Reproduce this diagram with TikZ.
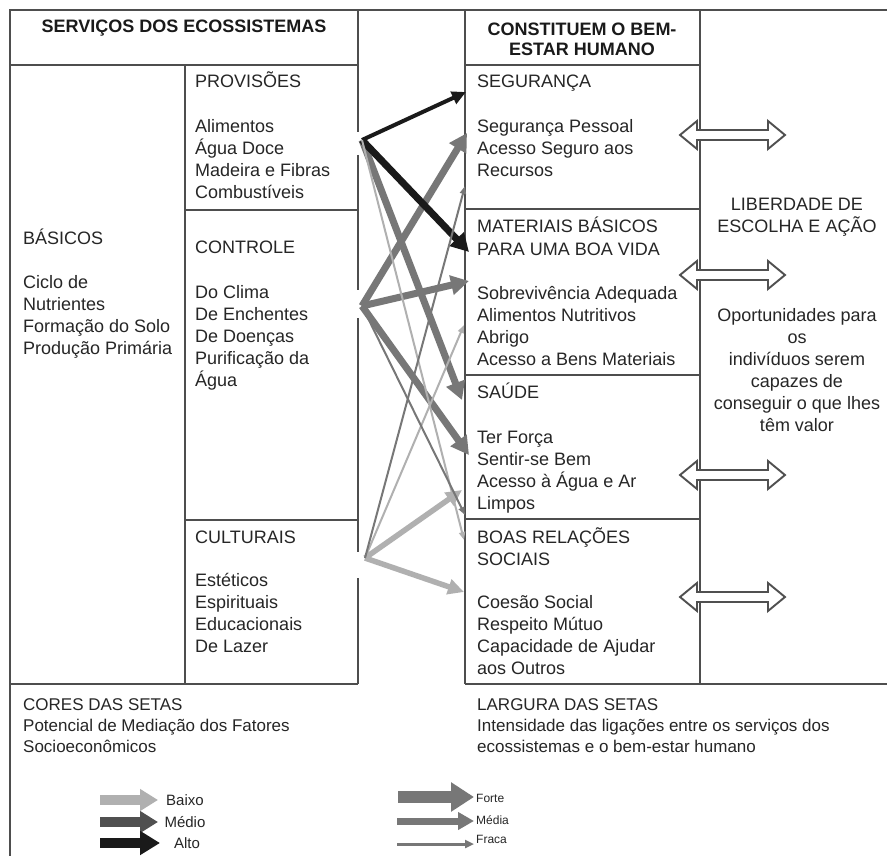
\documentclass[tikz,border=0pt]{standalone}
\usepackage{fontspec}
\setmainfont{Liberation Sans}
\usetikzlibrary{arrows.meta}
\definecolor{framec}{HTML}{4E4E4E}
\definecolor{txtc}{HTML}{262626}
\definecolor{calto}{HTML}{1A1A1A}
\definecolor{cmedio}{HTML}{777777}
\definecolor{cmediodk}{HTML}{505050}
\definecolor{cbaixo}{HTML}{B0B0B0}
\newcommand\tblock[6]{%
  \foreach \lineText [count=\k] in {#6} {\node[#2] (#1\k) at (#3,{#4+(\k-1)*#5}) {\lineText};}}
\newcommand\dblarr[1]{%
  \draw[dblarrow] (680,#1) -- (697,{#1-14}) -- (697,{#1-5}) -- (768,{#1-5}) -- (768,{#1-14})
   -- (785,#1) -- (768,{#1+14}) -- (768,{#1+5}) -- (697,{#1+5}) -- (697,{#1+14}) -- cycle;}
\begin{document}
\begin{tikzpicture}[x=1pt,y=-1pt,
  rule/.style={draw=framec, line width=1.9pt},
  txt/.style={inner sep=0pt, anchor=base west, text=txtc, font=\fontsize{18}{22}\selectfont},
  hdr/.style={inner sep=0pt, anchor=base, text=calto, font=\bfseries\fontsize{18}{22}\selectfont},
  ctr/.style={inner sep=0pt, anchor=base, text=txtc, font=\fontsize{18}{22}\selectfont},
  lgd/.style={inner sep=0pt, anchor=base west, text=txtc, font=\fontsize{17}{21}\selectfont},
  lgdc/.style={inner sep=0pt, anchor=base, text=txtc, font=\fontsize{15}{18}\selectfont},
  lgds/.style={inner sep=0pt, anchor=base west, text=txtc, font=\fontsize{12}{14}\selectfont},
  dblarrow/.style={draw=cmediodk, fill=white, line width=1.9pt, line join=miter},
  wforte/.style={line width=7pt, -{Triangle[length=18pt,width=19pt]}},
  wblkmed/.style={line width=4pt, -{Triangle[length=14pt,width=13pt]}},
  wmedia/.style={line width=5.5pt, -{Triangle[length=16pt,width=15pt]}},
  wfraca/.style={line width=2pt, -{Triangle[length=8pt,width=6pt]}},
]
\useasboundingbox (0,0) rectangle (887,856);
\fill[white] (0,0) rectangle (887,856);

% frame
\draw[rule] (10,856) -- (10,10) -- (887,10);
\draw[rule] (10,65) -- (358,65);
\draw[rule] (358,10) -- (358,132) (358,155) -- (358,290) (358,318) -- (358,552) (358,578) -- (358,684);
\draw[rule] (185,65) -- (185,684);
\draw[rule] (185,210) -- (358,210) (185,520) -- (358,520);
\draw[rule] (10,684) -- (358,684);
\draw[rule] (465,10) -- (465,684);
\draw[rule] (700,10) -- (700,684);
\draw[rule] (465,65) -- (700,65) (465,209) -- (700,209) (465,375) -- (700,375) (465,519) -- (700,519);
\draw[rule] (465,684) -- (887,684);

% texts
\tblock{shdr}{hdr}{184}{33}{20}{SERVIÇOS DOS ECOSSISTEMAS}
\tblock{prov}{txt}{195}{88}{22}{PROVISÕES}
\tblock{provi}{txt}{195}{133}{22}{Alimentos,Água Doce,Madeira e Fibras,Combustíveis}
\tblock{bas}{txt}{23}{244}{22}{BÁSICOS}
\tblock{basi}{txt}{23}{288}{22}{Ciclo de,Nutrientes,Formação do Solo,Produção Primária}
\tblock{ctl}{txt}{195}{254}{22}{CONTROLE}
\tblock{ctli}{txt}{195}{298}{22}{Do Clima,De Enchentes,De Doenças,Purificação da,Água}
\tblock{cul}{txt}{195}{543}{22}{CULTURAIS}
\tblock{culi}{txt}{195}{586}{22}{Estéticos,Espirituais,Educacionais,De Lazer}
\tblock{bhdr}{hdr}{582}{36}{20}{CONSTITUEM O BEM-,ESTAR HUMANO}
\tblock{seg}{txt}{477}{88}{22}{SEGURANÇA}
\tblock{segi}{txt}{477}{133}{22}{Segurança Pessoal,Acesso Seguro aos,Recursos}
\tblock{mat}{txt}{477}{233}{22}{MATERIAIS BÁSICOS,PARA UMA BOA VIDA}
\tblock{mati}{txt}{477}{299}{22}{Sobrevivência Adequada,Alimentos Nutritivos,Abrigo,Acesso a Bens Materiais}
\tblock{sau}{txt}{477}{398}{22}{SAÚDE}
\tblock{saui}{txt}{477}{443}{22}{Ter Força,Sentir-se Bem,Acesso à Água e Ar,Limpos}
\tblock{boa}{txt}{477}{543}{22}{BOAS RELAÇÕES,SOCIAIS}
\tblock{boai}{txt}{477}{608}{22}{Coesão Social,Respeito Mútuo,Capacidade de Ajudar,aos Outros}
\tblock{lib}{ctr}{797}{211}{22}{LIBERDADE DE,ESCOLHA E AÇÃO}
\tblock{opo}{ctr}{797}{321}{22}{Oportunidades para,os,indivíduos serem,capazes de,conseguir o que lhes,têm valor}
\tblock{cor}{lgd}{23}{710}{21}{CORES DAS SETAS,Potencial de Mediação dos Fatores,Socioeconômicos}
\tblock{lar}{lgd}{477}{710}{21}{LARGURA DAS SETAS,Intensidade das ligações entre os serviços dos,ecossistemas e o bem-estar humano}

% double arrows
\dblarr{135}
\dblarr{275}
\dblarr{475}
\dblarr{597}

% connector endpoints
\coordinate (P) at (362,140);
\coordinate (C) at (362,306);
\coordinate (U) at (365,558);
\coordinate (pseg) at (466,92);
\coordinate (pmat) at (469,252);
\coordinate (psau) at (462,400);
\coordinate (pboa) at (464,540);
\coordinate (cseg) at (467,133);
\coordinate (cmat) at (469,281);
\coordinate (csau) at (469,455);
\coordinate (cboa) at (465,515);
\coordinate (useg) at (465,186);
\coordinate (umat) at (464,325);
\coordinate (usau) at (462,490);
\coordinate (uboa) at (464,592);

% connectors
\draw[cmedio, wforte] (C) -- (cseg);
\draw[cmedio, wforte] (C) -- (cmat);
\draw[cmedio, wforte] (C) -- (csau);
\draw[cmedio, wforte] (P) -- (psau);
\draw[calto, wforte] (P) -- (pmat);
\draw[calto, wblkmed] (P) -- (pseg);
\draw[cbaixo, wmedia] (U) -- (usau);
\draw[cbaixo, wmedia] (U) -- (uboa);
\draw[cbaixo, wfraca] (P) -- (pboa);
\draw[cbaixo, wfraca] (U) -- (umat);
\draw[cmedio, wfraca] (U) -- (useg);
\draw[cmedio, wfraca] (C) -- (cboa);

% legend: colours
\coordinate (lb0) at (100,800); \coordinate (lb1) at (158,800);
\coordinate (lm0) at (100,822); \coordinate (lm1) at (158,822);
\coordinate (la0) at (100,843); \coordinate (la1) at (160,843);
\draw[cbaixo, line width=10pt, -{Triangle[length=18pt,width=21pt]}] (lb0) -- (lb1);
\draw[cmediodk, line width=10pt, -{Triangle[length=18pt,width=21pt]}] (lm0) -- (lm1);
\draw[calto, line width=10pt, -{Triangle[length=20pt,width=23pt]}] (la0) -- (la1);
\node[lgdc] (lbx) at (185,805) {Baixo};
\node[lgdc] (lmd) at (185,827) {Médio};
\node[lgdc] (lat) at (187,848) {Alto};

% legend: widths
\coordinate (wf0) at (398,797); \coordinate (wf1) at (474,797);
\coordinate (wm0) at (397,821); \coordinate (wm1) at (474,821);
\coordinate (wr0) at (397,844); \coordinate (wr1) at (474,844);
\draw[cmedio, line width=12pt, -{Triangle[length=23pt,width=28pt]}] (wf0) -- (wf1);
\draw[cmedio, line width=7pt, -{Triangle[length=16pt,width=17pt]}] (wm0) -- (wm1);
\draw[cmedio, line width=3pt, -{Triangle[length=9pt,width=8pt]}] (wr0) -- (wr1);
\node[lgds] (lfo) at (476,802) {Forte};
\node[lgds] (lme) at (476,824) {Média};
\node[lgds] (lfr) at (476,843) {Fraca};
\end{tikzpicture}
\end{document}
